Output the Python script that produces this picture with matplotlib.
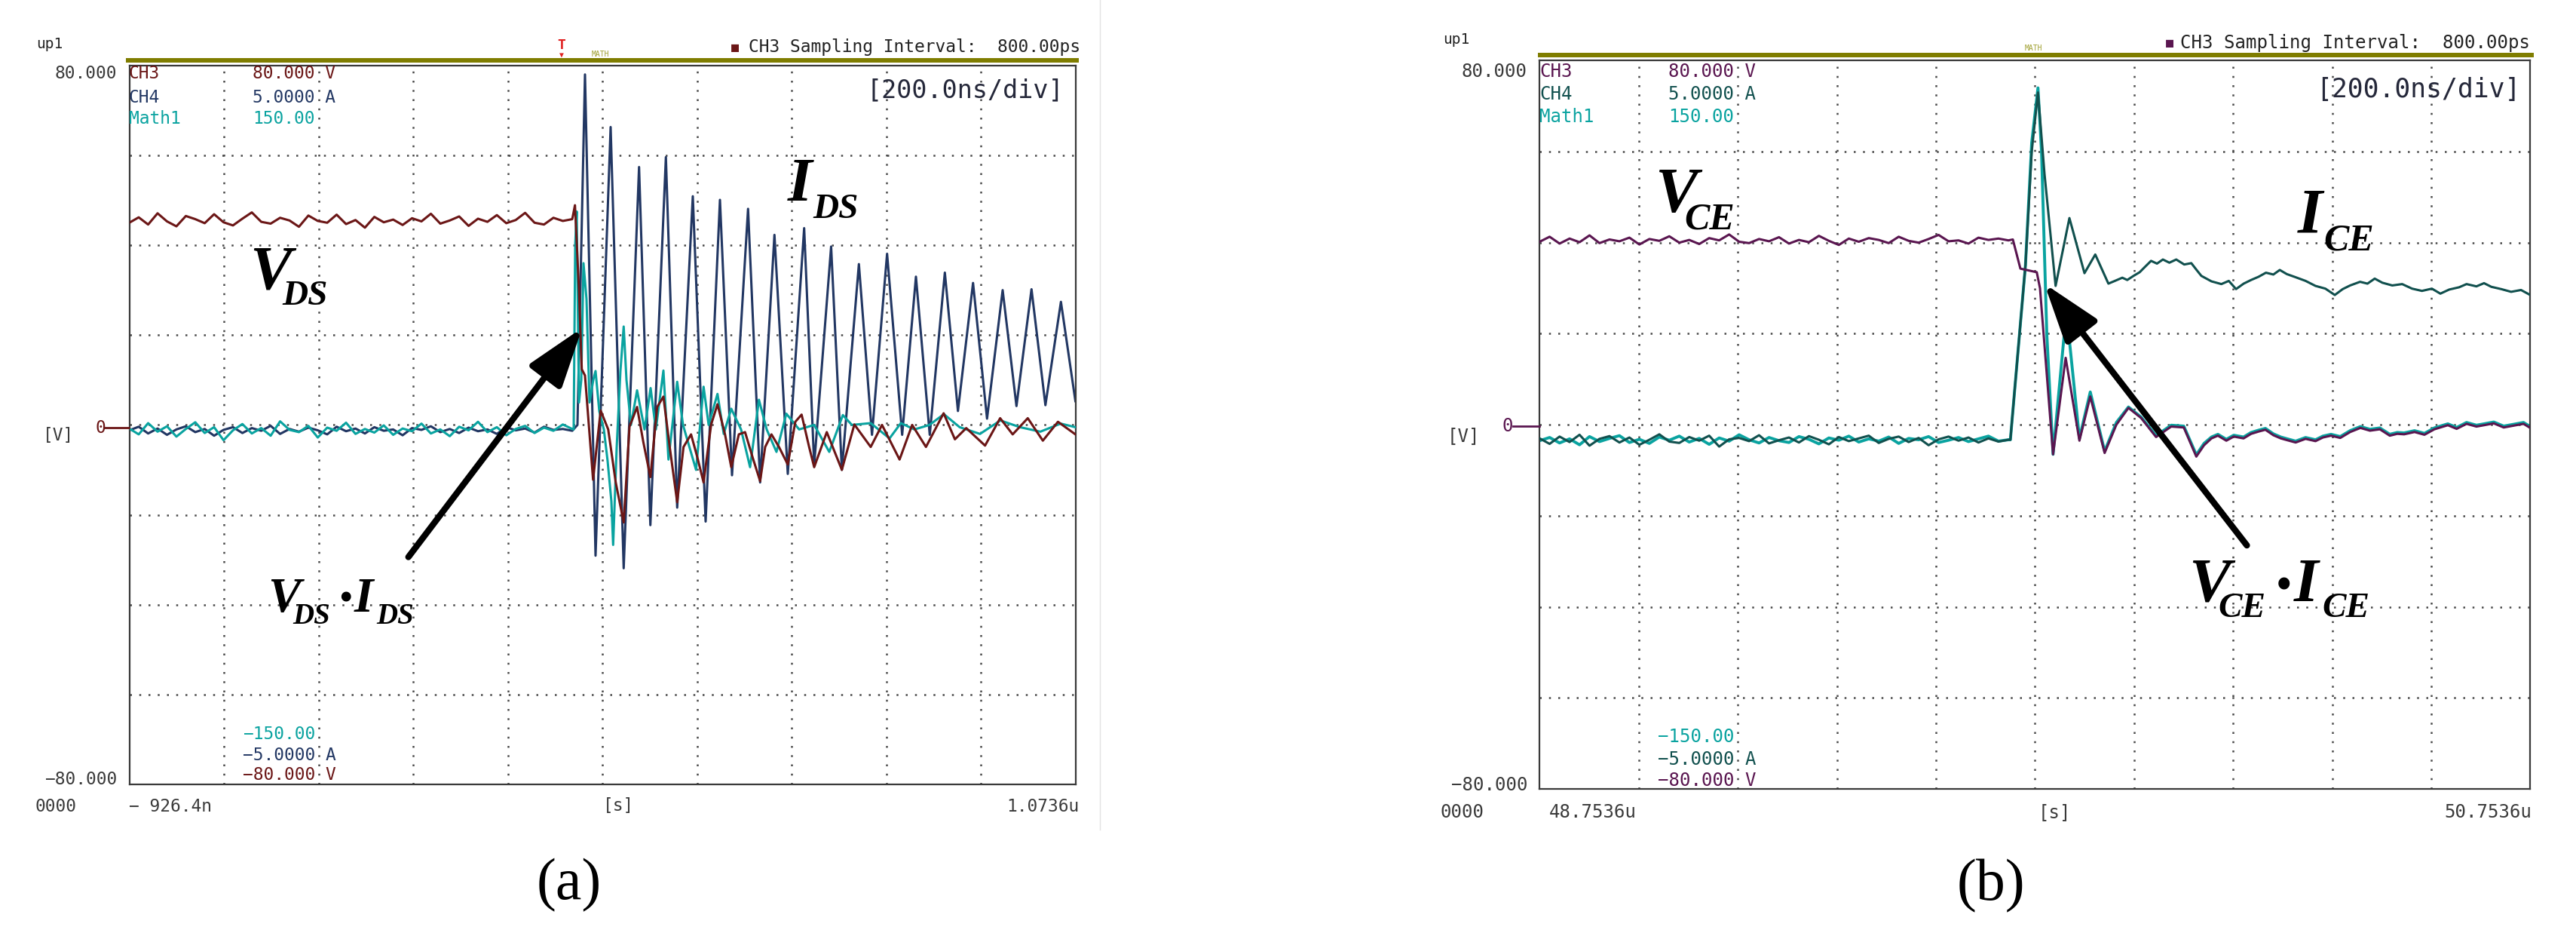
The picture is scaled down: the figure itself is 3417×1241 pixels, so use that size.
import numpy as np
import matplotlib
matplotlib.use('Agg')
import matplotlib.pyplot as plt
from matplotlib.patches import Rectangle
from matplotlib.lines import Line2D

# ---------------- panel (a): MOSFET, time in ns, screen units in V ----------------
t_pre_a = np.linspace(-926.4, 10.0, 48)
vds_pre = [45.0, 46.2, 44.6, 47.1, 45.3, 44.2, 46.5, 45.8, 44.9, 46.9, 45.1, 44.4,
           45.9, 47.3, 45.2, 44.8, 46.1, 45.5, 44.1, 46.6, 45.4, 45.0, 46.8, 44.7,
           45.6, 43.9, 46.3, 45.1, 45.7, 44.5, 46.0, 45.3, 47.0, 44.8, 45.5, 46.4,
           44.3, 45.9, 45.2, 46.7, 44.9, 45.6, 47.2, 45.0, 44.6, 46.1, 45.4, 45.8]
ids_pre = [-1.2, -0.4, -1.9, -0.8, -2.2, -1.0, -0.3, -1.6, -0.9, -2.4, -1.1, -0.5,
           -1.8, -0.7, -1.3, -0.2, -2.0, -0.9, -1.5, -0.6, -1.2, -2.1, -0.4, -1.4,
           -0.8, -1.9, -0.5, -1.3, -1.0, -2.3, -0.7, -1.1, -0.3, -1.6, -0.9, -1.8,
           -0.6, -1.4, -1.0, -2.0, -0.5, -1.2, -0.8, -1.7, -0.4, -1.1, -0.9, -1.3]
matha_pre = [-0.8, -2.1, 0.4, -1.5, -0.3, -2.6, -0.9, 0.6, -1.8, -0.5, -3.4, -1.2,
             0.2, -1.9, -0.7, -2.4, 0.8, -1.1, -1.6, -0.2, -2.8, -0.6, -1.3, 0.5,
             -2.0, -0.9, -1.7, -0.1, -2.2, -0.8, -1.4, 0.3, -1.9, -1.0, -2.5, -0.4,
             -1.2, 0.7, -1.6, -0.5, -2.3, -0.9, -0.2, -1.8, -0.6, -1.3, 0.1, -0.9]

ids_t = [21.0, 36.9, 59.2, 91.1, 118.7, 151.2, 175.1, 207.9, 231.8, 264.8, 291.9,
         322.2, 347.7, 381.6, 407.1, 437.4, 465.6, 500.2, 521.4, 557.2, 579.9, 615.9,
         643.6, 675.5, 707.4, 736.5, 765.7, 797.6, 825.3, 857.2, 886.8, 919.8, 949.0,
         980.8, 1010.2, 1043.0, 1073.6]
ids_v = [0.0, 78.0, -29.1, 66.3, -31.9, 57.4, -22.3, 59.6, -18.4, 50.9, -21.5,
         50.1, -11.2, 48.1, -12.8, 42.3, -10.9, 43.8, -8.9, 39.7, -10.0, 35.8,
         -2.2, 38.1, -2.2, 33.0, -2.2, 33.9, 3.1, 31.6, 1.4, 30.0, 4.2,
         30.2, 4.4, 27.4, 5.3]

vds_t = [15.7, 24.2, 30.1, 36.9, 54.0, 70.0, 86.0, 101.9, 118.7, 131.0, 147.0, 160.2,
         175.1, 189.5, 202.7, 216.0, 231.8, 245.2, 261.1, 274.4, 287.6, 303.6, 317.0,
         332.9, 346.1, 362.1, 375.3, 391.2, 407.1, 417.8, 431.1, 447.0, 465.6, 481.5,
         494.8, 510.7, 521.4, 548.0, 579.9, 606.3, 640.9, 664.8, 701.9, 728.5, 757.7,
         795.0, 818.9, 842.8, 882.6, 914.5, 941.0, 972.9, 1004.8, 1036.7, 1073.6]
vds_v = [48.9, 30.0, 12.4, 11.0, -12.2, 3.2, -1.0, -12.8, -21.7, -0.4, 4.0, -3.8,
         -11.6, 4.0, 6.3, -4.9, -17.2, -4.9, -2.1, -7.2, -12.8, 0.1, 4.6,
         -2.1, -9.4, -2.1, -1.6, -7.2, -12.5, -4.9, -2.1, -4.9, -8.8, 0.7,
         2.3, -4.9, -9.4, -1.6, -10.0, 0.1, -4.9, 0.0, -7.7, 0.0, -4.9,
         2.6, -3.2, -0.7, -4.6, 1.5, -2.1, 1.5, -3.5, 0.7, -2.1]

matha_t = [13.0, 16.2, 19.4, 24.2, 29.0, 33.7, 40.1, 46.5, 54.4, 59.2, 67.2, 76.8,
           84.7, 92.7, 96.4, 103.9, 111.8, 118.7, 124.6, 134.1, 147.0, 162.8, 175.6,
           186.7, 202.7, 213.4, 231.8, 244.1, 271.7, 287.6, 298.3, 317.0, 330.2, 346.1,
           366.8, 385.9, 404.6, 421.0, 441.7, 462.5, 489.6, 521.4, 553.3, 582.0, 601.1,
           640.9, 680.7, 704.6, 733.3, 765.2, 795.5, 828.9, 871.9, 915.0, 956.4, 999.5,
           1042.5, 1073.6]
matha_v = [-1.0, 40.0, 47.5, 5.0, 10.0, 36.0, 28.0, 5.0, 10.0, 12.0, 3.0, -1.0,
           -8.0, -17.0, -26.7, -5.0, 12.0, 21.9, 10.0, 0.0, 7.7, -1.0, 8.2,
           -1.0, 12.1, -7.7, 9.6, 0.0, -10.0, 8.5, 0.0, 6.9, -2.0, 3.6,
           -1.0, -9.4, 5.6, -1.0, -6.0, 2.5, -1.0, 0.0, -6.0, 2.2, 0.0,
           0.4, -3.0, 0.4, -1.0, 0.0, 2.4, -0.5, -2.0, 1.0, -0.5, -1.5,
           0.3, -0.5]

# ---------------- panel (b): IGBT ----------------
t_pre_b = np.linspace(48753.6, 49700.0, 48)
vce_pre = [40.2, 41.3, 39.8, 40.9, 40.1, 41.6, 39.9, 40.7, 40.3, 41.1, 39.6, 40.8,
           40.4, 41.4, 40.0, 40.6, 39.7, 41.0, 40.5, 41.8, 40.2, 39.9, 40.8, 40.3,
           41.2, 39.8, 40.6, 40.1, 41.5, 40.4, 39.5, 40.9, 40.2, 41.0, 40.6, 39.9,
           41.3, 40.4, 40.0, 40.8, 41.7, 40.3, 40.5, 39.8, 41.1, 40.6, 40.9, 40.5]
ice_pre = [-3.0, -4.2, -2.6, -3.8, -2.2, -4.6, -3.1, -2.5, -3.9, -2.8, -4.4, -3.3,
           -2.1, -3.7, -4.0, -2.7, -3.5, -2.4, -4.8, -3.2, -2.9, -3.6, -2.3, -4.1,
           -3.4, -2.8, -3.9, -2.5, -3.3, -4.3, -2.7, -3.6, -3.0, -2.4, -4.0, -3.1,
           -2.6, -3.8, -2.9, -4.5, -3.2, -2.6, -3.5, -2.8, -3.9, -3.0, -3.7, -3.3]
mathb_pre = [-3.5, -2.8, -4.0, -3.1, -4.4, -2.6, -3.7, -3.0, -2.4, -3.9, -3.2, -4.1,
             -2.7, -3.4, -2.5, -3.8, -3.0, -4.3, -2.9, -3.6, -2.2, -3.3, -4.0, -2.8,
             -3.5, -3.9, -2.6, -3.2, -4.2, -2.9, -3.4, -2.5, -3.8, -3.1, -3.6, -2.7,
             -4.1, -3.0, -3.3, -2.6, -3.9, -3.4, -2.8, -3.7, -3.1, -2.5, -3.6, -3.3]

vce_t = [49709.0, 49724.2, 49757.3, 49763.8, 49790.2, 49815.6, 49843.4, 49865.3,
         49894.3, 49918.0, 49942.4, 49967.8, 49998.2, 50028.7, 50054.1, 50079.4,
         50095.0, 50110.0, 50123.0, 50140.0, 50155.0, 50174.8, 50190.0, 50205.0,
         50218.9, 50235.0, 50250.0, 50263.1, 50280.0, 50300.0, 50320.0, 50335.0,
         50351.4, 50370.0, 50390.0, 50410.7, 50430.0, 50450.0, 50470.0, 50485.0,
         50499.0, 50520.0, 50540.0, 50560.0, 50575.0, 50587.3, 50605.0, 50625.0,
         50645.0, 50660.3, 50680.0, 50700.0, 50720.0, 50740.0, 50753.6]
vce_v = [40.7, 34.3, 33.5, 30.0, -6.5, 14.7, -3.5, 6.2, -6.2, 0.0, 3.7, 1.5,
         -2.7, -0.4, -0.6, -7.0, -4.5, -3.0, -2.4, -3.5, -2.6, -3.0, -2.0, -1.5,
         -1.1, -2.3, -3.0, -3.4, -3.9, -3.1, -3.6, -2.8, -2.4, -2.9, -1.6, -0.7,
         -1.3, -1.0, -2.4, -2.0, -2.1, -1.6, -2.2, -1.0, -0.5, -0.1, -0.9, 0.2,
         -0.4, -0.1, 0.3, -0.6, -0.2, 0.2, -0.7]

ice_t = [49704.0, 49734.4, 49747.1, 49759.7, 49773.0, 49795.3, 49823.2, 49853.6,
         49875.4, 49901.9, 49915.0, 49930.0, 49940.0, 49952.6, 49965.0, 49975.0,
         49988.0, 50000.0, 50011.9, 50025.0, 50038.9, 50055.0, 50069.3, 50080.0,
         50089.6, 50110.0, 50130.0, 50145.0, 50159.6, 50175.0, 50190.0, 50205.0,
         50220.0, 50235.0, 50247.9, 50262.0, 50280.0, 50300.0, 50320.0, 50340.0,
         50359.0, 50375.0, 50390.0, 50410.0, 50425.0, 50439.6, 50455.0, 50475.0,
         50495.0, 50515.0, 50535.0, 50555.0, 50572.1, 50590.0, 50610.0, 50625.0,
         50645.0, 50660.3, 50675.0, 50695.0, 50715.0, 50735.0, 50753.6]
ice_v = [-3.3, 35.0, 60.0, 73.0, 55.0, 30.5, 45.4, 33.3, 37.4, 31.0, 31.6, 32.3,
         31.8, 32.7, 33.5, 34.6, 36.0, 35.4, 36.3, 35.6, 36.3, 35.2, 35.5, 34.0,
         32.7, 31.5, 30.9, 31.6, 29.8, 31.0, 31.8, 32.5, 33.4, 33.0, 34.0, 33.1,
         32.4, 31.6, 30.5, 29.9, 28.5, 29.8, 30.6, 31.4, 31.0, 32.1, 31.2, 30.6,
         30.9, 29.9, 29.4, 29.9, 28.8, 29.7, 30.2, 30.9, 30.4, 31.1, 30.3, 29.8,
         29.2, 29.6, 28.5]

mathb_t = [49704.0, 49734.4, 49747.1, 49759.7, 49766.9, 49777.5, 49790.2, 49817.1,
           49843.4, 49865.3, 49894.3, 49918.0, 49942.4, 49967.8, 49998.2, 50028.7,
           50054.1, 50079.4, 50095.0, 50110.0, 50123.0, 50140.0, 50155.0, 50174.8,
           50190.0, 50205.0, 50218.9, 50235.0, 50250.0, 50263.1, 50280.0, 50300.0,
           50320.0, 50335.0, 50351.4, 50370.0, 50390.0, 50410.7, 50430.0, 50450.0,
           50470.0, 50485.0, 50499.0, 50520.0, 50540.0, 50560.0, 50575.0, 50587.3,
           50605.0, 50625.0, 50645.0, 50660.3, 50680.0, 50700.0, 50720.0, 50740.0,
           50753.6]
mathb_v = [-3.3, 35.0, 62.0, 74.0, 60.0, 20.0, -6.5, 25.0, -3.0, 7.2, -5.8, 0.5,
           3.9, 1.7, -2.4, -0.1, -0.3, -6.6, -4.1, -2.7, -2.1, -3.2, -2.3, -2.7,
           -1.7, -1.2, -0.8, -2.0, -2.7, -3.1, -3.6, -2.8, -3.3, -2.5, -2.1, -2.6,
           -1.3, -0.4, -1.0, -0.7, -2.1, -1.7, -1.8, -1.3, -1.9, -0.7, -0.2, 0.2,
           -0.6, 0.5, -0.1, 0.2, 0.6, -0.3, 0.1, 0.5, -0.4]

# colours
MAROON = '#6b1616'
NAVY = '#223763'
TEAL = '#0aa3a0'
PURPLE = '#5a1650'
DKTEAL = '#11504e'
GRAY = '#3a3a3a'
OLIVE = '#7f7d00'

W, H = 3417, 1241
fig = plt.figure(figsize=(W / 100, H / 100), dpi=100)


def fx(x):
    return x / W


def fy(y):
    return 1 - y / H


def ftext(x, y, s, **kw):
    kw.setdefault('va', 'center')
    kw.setdefault('family', 'DejaVu Sans Mono')
    fig.text(fx(x), fy(y), s, **kw)


def scope_axes(ax, t0):
    ax.set_xlim(t0, t0 + 2000)
    ax.set_ylim(-80, 80)
    ax.set_xticks([t0 + 200 * k for k in range(1, 10)])
    ax.set_yticks(range(-60, 61, 20))
    ax.tick_params(length=0, labelbottom=False, labelleft=False)
    ax.set_axisbelow(True)
    ax.grid(True, color='#4a4a4a', linestyle=(0, (1, 3.9)), linewidth=1.8)
    for s in ax.spines.values():
        s.set_color('#3a3a3a')
        s.set_linewidth(1.6)


ax_a = fig.add_axes([fx(171.5), fy(1040), (1426.5 - 171.5) / W, (1040 - 86.8) / H])
ax_b = fig.add_axes([fx(2042.3), fy(1046), (3356.3 - 2042.3) / W, (1046 - 80.3) / H])
scope_axes(ax_a, -926.4)
scope_axes(ax_b, 48753.6)

lw = 2.2
ax_a.plot(list(t_pre_a) + ids_t, ids_pre + ids_v, color=NAVY, lw=lw, zorder=2)
ax_a.plot(list(t_pre_a) + matha_t, matha_pre + matha_v, color=TEAL, lw=lw, zorder=3)
ax_a.plot(list(t_pre_a) + vds_t, vds_pre + vds_v, color=MAROON, lw=lw, zorder=4)

ax_b.plot(list(t_pre_b) + mathb_t, mathb_pre + mathb_v, color=TEAL, lw=lw + 0.6, zorder=2)
ax_b.plot(list(t_pre_b) + ice_t, ice_pre + ice_v, color=DKTEAL, lw=lw, zorder=3)
ax_b.plot(list(t_pre_b) + vce_t, vce_pre + vce_v, color=PURPLE, lw=lw, zorder=4)

# arrows
arrow_kw = dict(arrowstyle='-|>,head_length=4.8,head_width=1.6', lw=6, color='black',
                shrinkA=0, shrinkB=0, mutation_scale=10)
ax_a.annotate('', xy=(31.0, 21.6), xytext=(-336.4, -29.4), arrowprops=arrow_kw,
              annotation_clip=False, zorder=6)
ax_b.annotate('', xy=(49772.5, 31.0), xytext=(50181.5, -26.5), arrowprops=arrow_kw,
              annotation_clip=False, zorder=6)

# olive header bars and screen frame
fig.add_artist(Rectangle((fx(167), fy(82.5)), (1431 - 167) / W, 5.5 / H,
                         transform=fig.transFigure, color=OLIVE, lw=0))
fig.add_artist(Rectangle((fx(2040), fy(76)), (3361 - 2040) / W, 5.5 / H,
                         transform=fig.transFigure, color=OLIVE, lw=0))
fig.add_artist(Line2D([fx(1459), fx(1459)], [fy(0), fy(1100)], color='#e2e2e2', lw=1))
fig.add_artist(Line2D([fx(139), fx(171)], [fy(567), fy(567)], color=MAROON, lw=2))
fig.add_artist(Line2D([fx(2007), fx(2042)], [fy(565), fy(565)], color=PURPLE, lw=2))

# scope texts, panel (a)
fs = 16.5
ftext(48, 58, 'up1', size=14, color='#222222')
ftext(155, 98, '80.000', ha='right', size=fs, color=GRAY)
ftext(171, 98, 'CH3', size=fs, color=MAROON)
ftext(335, 98, '80.000 V', size=fs, color=MAROON)
ftext(171, 130, 'CH4', size=fs, color=NAVY)
ftext(335, 130, '5.0000 A', size=fs, color=NAVY)
ftext(171, 157, 'Math1', size=fs, color=TEAL)
ftext(335, 157, '150.00', size=fs, color=TEAL)
ftext(322, 973, '\u2212150.00', size=fs, color=TEAL)
ftext(322, 1001, '\u22125.0000 A', size=fs, color=NAVY)
ftext(322, 1028, '\u221280.000 V', size=fs, color=MAROON)
ftext(155, 1033, '\u221280.000', ha='right', size=fs, color=GRAY)
ftext(77, 577, '[V]', ha='center', size=fs, color=GRAY)
ftext(133, 567, '0', ha='center', size=fs, color=MAROON)
ftext(46, 1069, '0000', size=fs, color=GRAY)
ftext(171, 1069, '\u2212 926.4n', size=fs, color=GRAY)
ftext(800, 1069, '[s]', size=fs, color=GRAY)
ftext(1431, 1069, '1.0736u', ha='right', size=fs, color=GRAY)
ftext(1411, 120, '[200.0ns/div]', ha='right', size=24, color='#25283a')
ftext(975, 63, '\u25a0', ha='center', size=12, color=MAROON)
ftext(1433, 63, 'CH3 Sampling Interval:  800.00ps', ha='right', size=fs, color='#222222')
ftext(745, 60, 'T', ha='center', size=13, color='#e02020', weight='bold')
ftext(745, 73, '\u25bc', ha='center', size=7, color='#e02020')
ftext(796, 72, 'MATH', ha='center', size=7, color='#a0a030')

# scope texts, panel (b)
fb = 17.3
ftext(1914, 52, 'up1', size=14, color='#222222')
ftext(2026, 95, '80.000', ha='right', size=fb, color=GRAY)
ftext(2042, 95, 'CH3', size=fb, color=PURPLE)
ftext(2213, 95, '80.000 V', size=fb, color=PURPLE)
ftext(2042, 125, 'CH4', size=fb, color=DKTEAL)
ftext(2213, 125, '5.0000 A', size=fb, color=DKTEAL)
ftext(2042, 155, 'Math1', size=fb, color=TEAL)
ftext(2213, 155, '150.00', size=fb, color=TEAL)
ftext(2199, 977, '\u2212150.00', size=fb, color=TEAL)
ftext(2199, 1007, '\u22125.0000 A', size=fb, color=DKTEAL)
ftext(2199, 1035, '\u221280.000 V', size=fb, color=PURPLE)
ftext(2026, 1041, '\u221280.000', ha='right', size=fb, color=GRAY)
ftext(1941, 578, '[V]', ha='center', size=fb, color=GRAY)
ftext(2000, 565, '0', ha='center', size=fb, color=PURPLE)
ftext(1910, 1077, '0000', size=fb, color=GRAY)
ftext(2055, 1077, '48.7536u', size=fb, color=GRAY)
ftext(2704, 1077, '[s]', size=fb, color=GRAY)
ftext(3358, 1077, '50.7536u', ha='right', size=fb, color=GRAY)
ftext(3344, 119, '[200.0ns/div]', ha='right', size=25, color='#25283a')
ftext(2878, 57, '\u25a0', ha='center', size=12, color=PURPLE)
ftext(3356, 57, 'CH3 Sampling Interval:  800.00ps', ha='right', size=fb, color='#222222')
ftext(2697, 64, 'MATH', ha='center', size=7, color='#a0a030')

# waveform labels
lab = dict(family='Liberation Serif', style='italic', weight='bold', va='baseline',
           color='black')
dot = dict(family='Liberation Serif', weight='bold', va='center', ha='center',
           color='black')
ftext(331, 382, 'V', size=60, **lab)
ftext(374, 404, 'DS', size=34, **lab)
ftext(1045, 266, 'I', size=60, **lab)
ftext(1078, 289, 'DS', size=34, **lab)
ftext(355, 811, 'V', size=47, **lab)
ftext(388, 827, 'DS', size=28, **lab)
ftext(458, 795, '\u2022', size=34, **dot)
ftext(470, 811, 'I', size=47, **lab)
ftext(499, 827, 'DS', size=28, **lab)

ftext(2195, 281, 'V', size=61, **lab)
ftext(2234, 303, 'CE', size=36, **lab)
ftext(3048, 309, 'I', size=61, **lab)
ftext(3082, 331, 'CE', size=36, **lab)
ftext(2903, 797, 'V', size=60, **lab)
ftext(2942, 818, 'CE', size=34, **lab)
ftext(3029, 779, '\u2022', size=40, **dot)
ftext(3043, 797, 'I', size=60, **lab)
ftext(3080, 818, 'CE', size=34, **lab)

ftext(755, 1174, '(a)', ha='center', size=56, family='Liberation Serif', color='black')
ftext(2641, 1175, '(b)', ha='center', size=56, family='Liberation Serif', color='black')

fig.savefig('out.png', dpi=100, facecolor='white')
